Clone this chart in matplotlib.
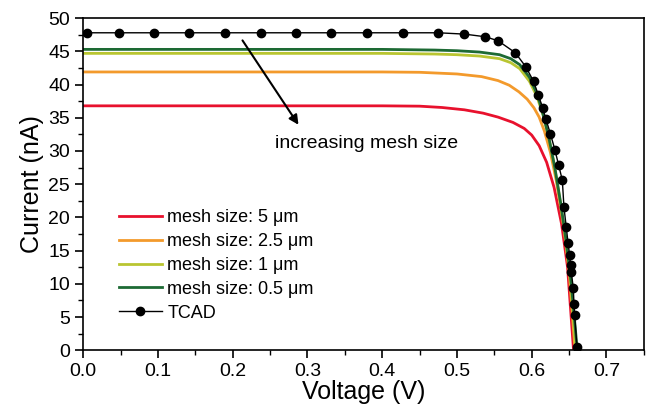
import matplotlib
matplotlib.use("Agg")
import matplotlib.pyplot as plt
from matplotlib.ticker import MultipleLocator, FormatStrFormatter

plt.rcParams['font.family'] = ['Liberation Sans', 'DejaVu Sans']

# I-V curves for each mesh size (voltage in V, current in nA)
v_5um = [0, 0.40, 0.45, 0.48, 0.51, 0.535, 0.555, 0.575, 0.59, 0.60, 0.61, 0.62, 0.63, 0.64, 0.648, 0.656]
i_5um = [36.8, 36.8, 36.75, 36.55, 36.2, 35.7, 35.1, 34.3, 33.4, 32.4, 30.8, 28.3, 24.5, 19.0, 12.5, 0.0]

v_2p5um = [0, 0.40, 0.45, 0.50, 0.533, 0.555, 0.57, 0.583, 0.594, 0.603, 0.61, 0.617, 0.625, 0.633, 0.643, 0.65, 0.658]
i_2p5um = [41.9, 41.9, 41.85, 41.6, 41.2, 40.6, 39.9, 38.9, 37.8, 36.5, 35.1, 33.0, 29.8, 25.5, 18.5, 12.0, 0.0]

v_1um = [0, 0.40, 0.47, 0.50, 0.53, 0.557, 0.572, 0.584, 0.597, 0.607, 0.615, 0.622, 0.63, 0.638, 0.645, 0.652, 0.659]
i_1um = [44.7, 44.7, 44.6, 44.5, 44.3, 43.9, 43.3, 42.4, 40.5, 38.2, 35.5, 32.5, 28.0, 22.5, 17.0, 10.5, 0.0]

v_0p5um = [0, 0.40, 0.47, 0.50, 0.53, 0.557, 0.572, 0.584, 0.597, 0.608, 0.616, 0.623, 0.631, 0.639, 0.646, 0.653, 0.661]
i_0p5um = [45.3, 45.3, 45.2, 45.1, 44.9, 44.5, 43.9, 43.0, 41.1, 38.4, 35.2, 32.0, 27.5, 22.0, 16.5, 10.0, 0.0]

# reference TCAD simulation
v_tcad = [0.005, 0.048, 0.095, 0.142, 0.189, 0.2375, 0.285, 0.332, 0.380, 0.428, 0.475,
          0.510, 0.538, 0.555, 0.578, 0.592, 0.6025, 0.609, 0.615, 0.619, 0.625, 0.631,
          0.636, 0.641, 0.6432, 0.6463, 0.6486, 0.6508, 0.6521, 0.653, 0.6557, 0.6566,
          0.6575, 0.6606]
i_tcad = [47.8, 47.8, 47.8, 47.8, 47.8, 47.8, 47.8, 47.8, 47.8, 47.8, 47.8,
          47.6, 47.2, 46.6, 44.8, 42.7, 40.5, 38.4, 36.4, 34.8, 32.6, 30.2,
          27.9, 25.6, 21.5, 18.5, 16.2, 14.3, 12.9, 11.8, 9.3, 6.9,
          5.3, 0.5]

fig = plt.figure(figsize=(6.48, 4.13), dpi=100)
ax = fig.add_axes([0.1285, 0.152, 0.865, 0.804])

ax.plot(v_5um, i_5um, color='#e8112d', lw=2.0, label='mesh size: 5 μm')
ax.plot(v_2p5um, i_2p5um, color='#f39a2c', lw=2.0, label='mesh size: 2.5 μm')
ax.plot(v_1um, i_1um, color='#b9c531', lw=2.0, label='mesh size: 1 μm')
ax.plot(v_0p5um, i_0p5um, color='#1d6a34', lw=2.0, label='mesh size: 0.5 μm')
ax.plot(v_tcad, i_tcad, color='black', lw=1.0, marker='o', ms=6, label='TCAD')

ax.annotate('', xy=(0.29, 33.6), xytext=(0.211, 47.0),
            arrowprops=dict(arrowstyle='-|>', lw=1.5, color='black', mutation_scale=14))
ax.text(0.257, 31.2, 'increasing mesh size', fontsize=14, va='center', ha='left')

ax.set_xlim(0, 0.75)
ax.set_ylim(0, 50)
ax.xaxis.set_major_locator(MultipleLocator(0.1))
ax.xaxis.set_minor_locator(MultipleLocator(0.05))
ax.yaxis.set_major_locator(MultipleLocator(5))
ax.yaxis.set_minor_locator(MultipleLocator(2.5))
ax.xaxis.set_major_formatter(FormatStrFormatter('%.1f'))
ax.tick_params(which='both', direction='out', top=False, right=False, labelsize=14)
ax.tick_params(which='major', length=6, width=1.2)
ax.tick_params(which='minor', length=3.5, width=1.0)
for s in ax.spines.values():
    s.set_linewidth(1.2)

ax.set_xlabel('Voltage (V)', fontsize=18, labelpad=0)
ax.set_ylabel('Current (nA)', fontsize=18, labelpad=3)

ax.legend(loc='lower left', bbox_to_anchor=(0.064, 0.086), frameon=False, fontsize=13,
          borderpad=0, borderaxespad=0, handlelength=2.35, handletextpad=0.31,
          labelspacing=0.38)

fig.savefig('out.png', dpi=100)
